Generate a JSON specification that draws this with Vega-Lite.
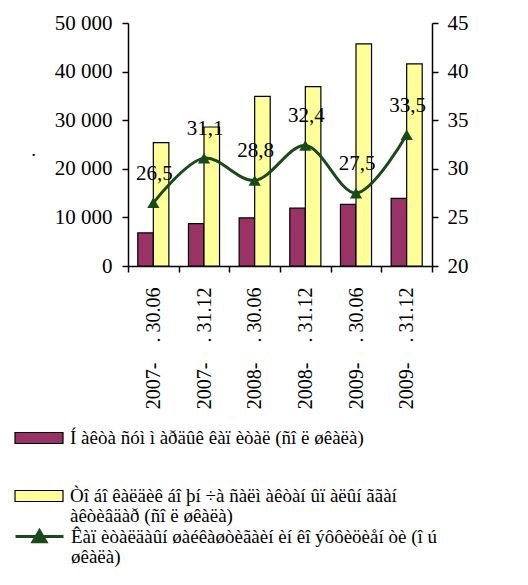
{
  "$schema": "https://vega.github.io/schema/vega-lite/v6.json",
  "width": 304,
  "height": 243,
  "autosize": {"type": "none"},
  "padding": {"left": 128, "top": 23, "right": 96, "bottom": 319},
  "background": "white",
  "config": {
    "font": "Times New Roman, Liberation Serif, Tinos, DejaVu Serif, Noto Serif, FreeSerif, serif",
    "locale": {"number": {"decimal": ",", "thousands": " ", "grouping": [3], "currency": ["", ""]}},
    "view": {"stroke": null},
    "text": {"font": "Times New Roman, Liberation Serif, Tinos, DejaVu Serif, Noto Serif, FreeSerif, serif"},
    "axis": {
      "labelFont": "Times New Roman, Liberation Serif, Tinos, DejaVu Serif, Noto Serif, FreeSerif, serif",
      "titleFont": "Times New Roman, Liberation Serif, Tinos, DejaVu Serif, Noto Serif, FreeSerif, serif",
      "labelFontSize": 21,
      "labelColor": "black",
      "domainColor": "black",
      "domainWidth": 1.5,
      "tickColor": "black",
      "tickWidth": 1.5,
      "grid": false,
      "tickSize": 6,
      "labelPadding": 10
    },
    "legend": {
      "labelFont": "Times New Roman, Liberation Serif, Tinos, DejaVu Serif, Noto Serif, FreeSerif, serif",
      "labelFontSize": 19,
      "labelColor": "black",
      "labelLimit": 800,
      "labelOffset": 6,
      "padding": 0,
      "title": null,
      "symbolSize": 2304,
      "direction": "vertical",
      "orient": "none"
    }
  },
  "datasets": {
    "bars": [
      {"period": "2007- . 30.06", "series": "Í àêòà ñóì ì àðäûê êàï èòàë (ñî ë øêàëà)", "value": 6800},
      {"period": "2007- . 30.06", "series": "Òî áî êàëäèê áî þí ÷à ñàëì àêòàí ûï  àëûí ããàí àêòèâäàð (ñî ë øêàëà)", "value": 25400},
      {"period": "2007- . 31.12", "series": "Í àêòà ñóì ì àðäûê êàï èòàë (ñî ë øêàëà)", "value": 8700},
      {"period": "2007- . 31.12", "series": "Òî áî êàëäèê áî þí ÷à ñàëì àêòàí ûï  àëûí ããàí àêòèâäàð (ñî ë øêàëà)", "value": 28600},
      {"period": "2008- . 30.06", "series": "Í àêòà ñóì ì àðäûê êàï èòàë (ñî ë øêàëà)", "value": 9900},
      {"period": "2008- . 30.06", "series": "Òî áî êàëäèê áî þí ÷à ñàëì àêòàí ûï  àëûí ããàí àêòèâäàð (ñî ë øêàëà)", "value": 34900},
      {"period": "2008- . 31.12", "series": "Í àêòà ñóì ì àðäûê êàï èòàë (ñî ë øêàëà)", "value": 11900},
      {"period": "2008- . 31.12", "series": "Òî áî êàëäèê áî þí ÷à ñàëì àêòàí ûï  àëûí ããàí àêòèâäàð (ñî ë øêàëà)", "value": 36900},
      {"period": "2009- . 30.06", "series": "Í àêòà ñóì ì àðäûê êàï èòàë (ñî ë øêàëà)", "value": 12700},
      {"period": "2009- . 30.06", "series": "Òî áî êàëäèê áî þí ÷à ñàëì àêòàí ûï  àëûí ããàí àêòèâäàð (ñî ë øêàëà)", "value": 45700},
      {"period": "2009- . 31.12", "series": "Í àêòà ñóì ì àðäûê êàï èòàë (ñî ë øêàëà)", "value": 13900},
      {"period": "2009- . 31.12", "series": "Òî áî êàëäèê áî þí ÷à ñàëì àêòàí ûï  àëûí ããàí àêòèâäàð (ñî ë øêàëà)", "value": 41600}
    ],
    "ratio": [
      {"period": "2007- . 30.06", "ratio": 26.5},
      {"period": "2007- . 31.12", "ratio": 31.1},
      {"period": "2008- . 30.06", "ratio": 28.8},
      {"period": "2008- . 31.12", "ratio": 32.4},
      {"period": "2009- . 30.06", "ratio": 27.5},
      {"period": "2009- . 31.12", "ratio": 33.5}
    ]
  },
  "layer": [
    {
      "data": {"name": "bars"},
      "mark": {"type": "bar", "stroke": "black", "strokeWidth": 1.2},
      "encoding": {
        "x": {
          "field": "period", "type": "nominal", "sort": null,
          "scale": {"paddingInner": 0, "paddingOuter": 0},
          "axis": {
            "title": null,
            "labelAngle": -90,
            "labelAlign": "right",
            "labelBaseline": "middle",
            "labelFontSize": 20,
            "labelPadding": 15,
            "labelLimit": 300,
            "tickBand": "extent",
            "labelExpr": "replace(datum.label, '- ', '-\u00a0\u00a0\u00a0\u00a0')",
            "encode": {"ticks": {"update": {"y": {"value": -6}}}}
          }
        },
        "xOffset": {
          "field": "series", "type": "nominal", "sort": null,
          "scale": {"paddingInner": 0, "paddingOuter": 0.63}
        },
        "y": {
          "field": "value", "type": "quantitative",
          "scale": {"domain": [0, 50000], "nice": false},
          "axis": {
            "values": [0, 10000, 20000, 30000, 40000, 50000],
            "format": ",d",
            "title": ".",
            "titleAngle": 0,
            "titleX": -95,
            "titleY": 132,
            "titleFontSize": 19,
            "titleFontWeight": "normal",
            "titleAlign": "center",
            "titleBaseline": "alphabetic",
            "encode": {"ticks": {"update": {"x": {"value": 6}}}}
          }
        },
        "color": {
          "field": "series", "type": "nominal",
          "scale": {
            "domain": [
              "Í àêòà ñóì ì àðäûê êàï èòàë (ñî ë øêàëà)",
              "Òî áî êàëäèê áî þí ÷à ñàëì àêòàí ûï  àëûí ããàí àêòèâäàð (ñî ë øêàëà)",
              "Êàï èòàëäàûí  øàéêàøòèãàèí èí  êî ýôôèöèåí òè (î ú øêàëà)"
            ],
            "range": ["#993366", "#FFFF99", "#1A4A1A"]
          },
          "legend": {
            "values": [
              "Í àêòà ñóì ì àðäûê êàï èòàë (ñî ë øêàëà)",
              "Òî áî êàëäèê áî þí ÷à ñàëì àêòàí ûï  àëûí ããàí àêòèâäàð (ñî ë øêàëà)"
            ],
            "legendX": -114,
            "legendY": 390,
            "rowPadding": 23,
            "labelBaseline": "alphabetic",
            "symbolType": "M-1,-0.23H1V0.23H-1Z",
            "symbolStrokeColor": "black",
            "symbolStrokeWidth": 1.2,
            "labelExpr": "indexof(datum.label,'Òî')==0 ? ['Òî áî êàëäèê áî þí ÷à ñàëì àêòàí ûï  àëûí ããàí', 'àêòèâäàð (ñî ë øêàëà)'] : datum.label",
            "encode": {
              "labels": {"update": {"dy": {"value": 6}, "lineHeight": {"value": 20}}}
            }
          }
        }
      }
    },
    {
      "data": {"name": "ratio"},
      "encoding": {
        "x": {"field": "period", "type": "nominal", "sort": null},
        "y": {
          "field": "ratio", "type": "quantitative",
          "scale": {"domain": [20, 45], "nice": false, "zero": false},
          "axis": {
            "orient": "right",
            "title": null,
            "values": [20, 25, 30, 35, 40, 45],
            "labelPadding": 9,
            "encode": {"ticks": {"update": {"x": {"value": -6}}}}
          }
        }
      },
      "layer": [
        {
          "mark": {"type": "line", "interpolate": "catmull-rom", "strokeWidth": 3},
          "encoding": {
            "color": {
              "datum": "Êàï èòàëäàûí  øàéêàøòèãàèí èí  êî ýôôèöèåí òè (î ú øêàëà)",
              "legend": {
                "values": ["Êàï èòàëäàûí  øàéêàøòèãàèí èí  êî ýôôèöèåí òè (î ú øêàëà)"],
                "legendX": -114,
                "legendY": 488,
                "labelBaseline": "alphabetic",
                "symbolType": "M-1,0H1M-0.27,0.22L0,-0.24L0.27,0.22Z",
                "symbolStrokeColor": "#1A4A1A",
                "symbolFillColor": "#1A4A1A",
                "symbolStrokeWidth": 3,
                "labelExpr": "['Êàï èòàëäàûí  øàéêàøòèãàèí èí  êî ýôôèöèåí òè (î ú', 'øêàëà)']",
                "encode": {
                  "labels": {"update": {"dy": {"value": 6}, "lineHeight": {"value": 20}}},
                  "symbols": {"update": {"fill": {"value": "#1A4A1A"}}}
                }
              }
            }
          }
        },
        {
          "mark": {"type": "point", "shape": "triangle-up", "filled": true, "size": 150, "opacity": 1},
          "encoding": {"color": {"datum": "Êàï èòàëäàûí  øàéêàøòèãàèí èí  êî ýôôèöèåí òè (î ú øêàëà)", "legend": null}}
        },
        {
          "mark": {"type": "text", "dy": -29, "dx": 1, "fontSize": 21, "color": "black"},
          "encoding": {"text": {"field": "ratio", "type": "quantitative", "format": ".1f"}}
        }
      ]
    }
  ],
  "resolve": {"scale": {"y": "independent"}, "legend": {"color": "independent"}}
}
